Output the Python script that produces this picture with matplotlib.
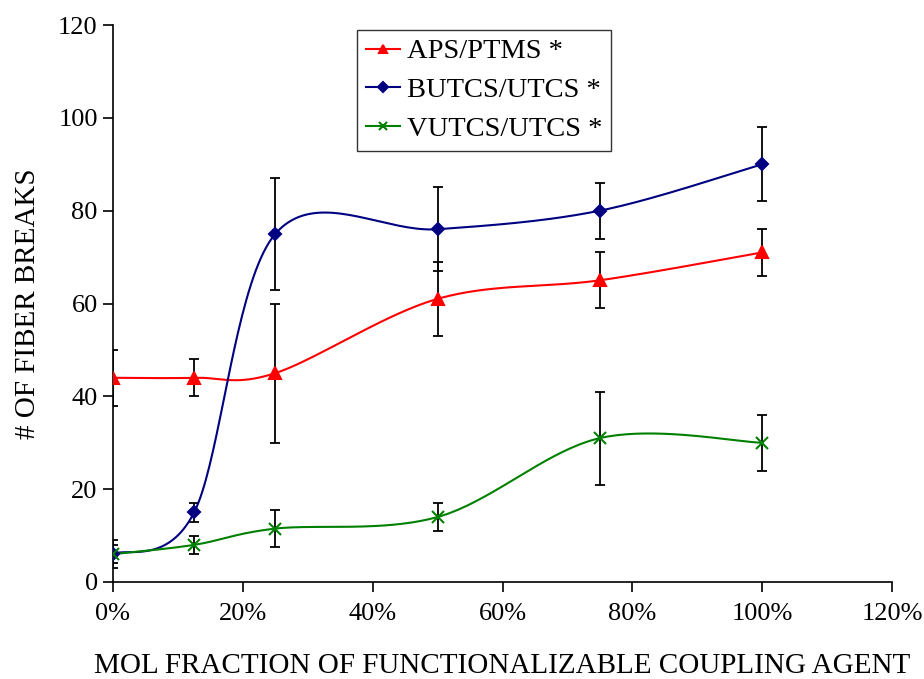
import numpy as np
import matplotlib; matplotlib.use('Agg')
import matplotlib.pyplot as plt

plt.rcParams['font.family'] = ['Liberation Serif', 'DejaVu Serif']

frac = [0.0, 0.125, 0.25, 0.5, 0.75, 1.0]
aps = [44, 44, 45, 61, 65, 71]
aps_err = [6, 4, 15, 8, 6, 5]
butcs = [6, 15, 75, 76, 80, 90]
butcs_err = [3, 2, 12, 9, 6, 8]
vutcs = [6, 8, 11.5, 14, 31, 30]
vutcs_err = [2, 2, 4, 3, 10, 6]


def smooth(x, y, n=40):
    # Excel-style smoothed line: cubic Bezier through points, tangents from neighbours
    p = np.column_stack([x, y]).astype(float)
    out = [p[0]]
    for i in range(len(p) - 1):
        p0 = p[i - 1] if i > 0 else p[i]
        p3 = p[i + 2] if i + 2 < len(p) else p[i + 1]
        c1 = p[i] + (p[i + 1] - p0) / 6
        c2 = p[i + 1] - (p3 - p[i]) / 6
        t = np.linspace(0, 1, n)[1:, None]
        seg = (1 - t) ** 3 * p[i] + 3 * (1 - t) ** 2 * t * c1 + 3 * (1 - t) * t ** 2 * c2 + t ** 3 * p[i + 1]
        out.extend(seg)
    out = np.array(out)
    return out[:, 0], out[:, 1]


fig = plt.figure(figsize=(9.24, 6.79), dpi=100)
ax = fig.add_axes([113 / 924, 1 - 582 / 679, 779 / 924, 557 / 679])

series = [
    ('APS/PTMS *', aps, aps_err, 'red', '^', 8),
    ('BUTCS/UTCS *', butcs, butcs_err, '#000080', 'D', 6),
    ('VUTCS/UTCS *', vutcs, vutcs_err, 'green', 'x', 8),
]
for label, y, err, c, m, ms in series:
    ax.errorbar(frac, y, yerr=err, fmt='none', ecolor='black', elinewidth=1.3, capsize=3.5, capthick=1.3, zorder=2)
    sx, sy = smooth(frac, y)
    ax.plot(sx, sy, color=c, lw=1.5, zorder=3)
    ax.plot(frac, y, ls='none', marker=m, color=c, ms=ms, mew=1.5, zorder=4)
    ax.plot([], [], color=c, lw=1.5, marker=m, ms=ms * 0.8, mew=1.5, label=label)

ax.set_xlim(0, 1.2)
ax.set_ylim(0, 120)
ax.set_xticks(np.arange(0, 1.21, 0.2))
ax.set_xticklabels([f"{int(round(v * 100))}%" for v in np.arange(0, 1.21, 0.2)])
ax.set_yticks(range(0, 121, 20))
ax.tick_params(labelsize=19, direction='out', length=7, width=1.2, pad=4)
ax.tick_params(axis='x', pad=8)
for s in ['top', 'right']:
    ax.spines[s].set_visible(False)
for s in ['left', 'bottom']:
    ax.spines[s].set_linewidth(1.2)

ax.set_xlabel('MOL FRACTION OF FUNCTIONALIZABLE COUPLING AGENT', fontsize=21, labelpad=20)
ax.set_ylabel('# OF FIBER BREAKS', fontsize=21, labelpad=12)

leg = ax.legend(loc='upper left', bbox_to_anchor=(244 / 779, 1 - 5 / 557), fontsize=20.5, frameon=True,
                fancybox=False, edgecolor='black', handlelength=1.2, handletextpad=0.25,
                borderpad=0.3, labelspacing=0.45, borderaxespad=0)
leg.get_frame().set_linewidth(1.0)

plt.savefig('out.png', dpi=100)
